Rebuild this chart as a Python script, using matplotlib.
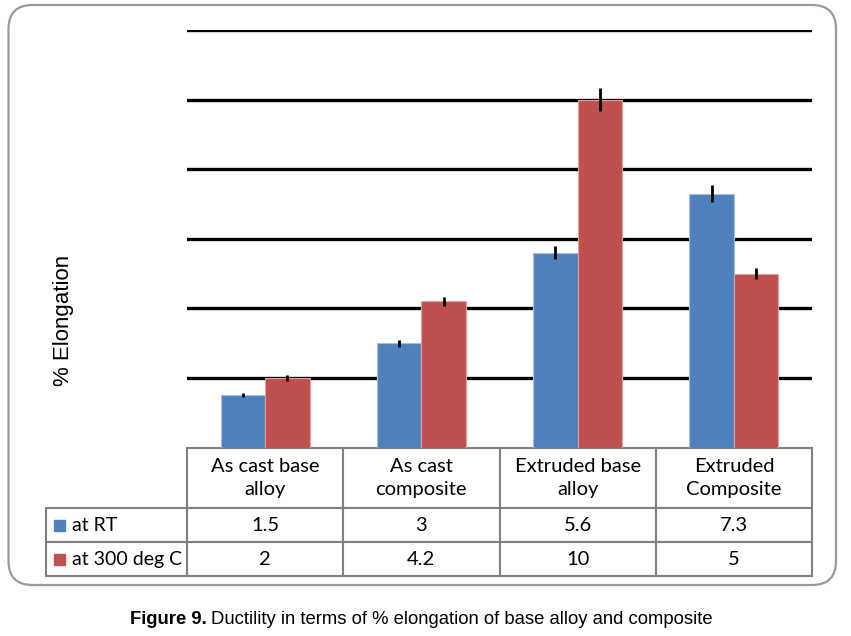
import numpy as np
import matplotlib
matplotlib.use("Agg")
import matplotlib.pyplot as plt
from matplotlib.patches import FancyBboxPatch, Rectangle
from matplotlib.transforms import IdentityTransform

# data
categories = ["As cast base\nalloy", "As cast\ncomposite", "Extruded base\nalloy", "Extruded\nComposite"]
series_names = ["at RT", "at 300 deg C"]
rt_values = [1.5, 3, 5.6, 7.3]
hot_values = [2, 4.2, 10, 5]
rt_err = [0.06, 0.1, 0.18, 0.24]
hot_err = [0.08, 0.12, 0.32, 0.16]
table_text = [["1.5", "3", "5.6", "7.3"], ["2", "4.2", "10", "5"]]

blue = "#4F81BD"
red = "#C0504D"
grid_gray = "#808080"

W, H = 851, 636
fig = plt.figure(figsize=(W / 100, H / 100), dpi=100)

# rounded frame round the whole chart
frame = FancyBboxPatch((8.5, H - 585), 827.5, 580, boxstyle="round,pad=0,rounding_size=24",
                       transform=IdentityTransform(), facecolor="none",
                       edgecolor="#9a9a9a", linewidth=1.6)
fig.patches.append(frame)

# plot area
left, right = 187 / W, 812 / W
bottom, top = 1 - 447.6 / H, 1 - 30 / H
ax = fig.add_axes([left, bottom, right - left, top - bottom])

x = np.arange(len(categories))
bw = 0.285
ax.bar(x - bw / 2, rt_values, bw, color=blue, edgecolor="#a9bfdd", linewidth=0.8, zorder=3)
ax.bar(x + bw / 2, hot_values, bw, color=red, edgecolor="#dca3a1", linewidth=0.8, zorder=3)
ax.errorbar(x - bw / 2, rt_values, yerr=rt_err, fmt="none", ecolor="black", elinewidth=2, capsize=0, zorder=4)
ax.errorbar(x + bw / 2, hot_values, yerr=hot_err, fmt="none", ecolor="black", elinewidth=2, capsize=0, zorder=4)

ax.set_xlim(-0.5, len(categories) - 0.5)
ax.set_ylim(0, 12)
ax.set_yticks(np.arange(2, 13, 2))
ax.yaxis.grid(True, color="black", linewidth=2.4, zorder=1)
ax.set_axisbelow(True)
ax.tick_params(left=False, bottom=False, labelleft=False, labelbottom=False)
for s in ax.spines.values():
    s.set_visible(False)

# data table under the axis (row labels kept as a first column)
ax_w_px = 625
ax_h_px = 447.6 - 30
head_h, row_h = 60.5, 34
lab_w, col_w = 141, 156.25
tab_left = -lab_w / ax_w_px
tab_bottom = -(head_h + 2 * row_h) / ax_h_px

cells = [[name] + vals for name, vals in zip(series_names, table_text)]
tbl = ax.table(cellText=cells, colLabels=[""] + categories, cellLoc="center",
               bbox=[tab_left, tab_bottom, 1 - tab_left, -tab_bottom])
tbl.auto_set_font_size(False)
for (r, c), cell in tbl.get_celld().items():
    cell.set_edgecolor(grid_gray)
    cell.set_linewidth(1.5)
    cell.set_height(head_h if r == 0 else row_h)
    cell.set_width(lab_w if c == 0 else col_w)
    txt = cell.get_text()
    txt.set_fontsize(14.5)
    txt.set_fontfamily("Lato")
    txt.set_linespacing(1.45)
    if c == 0:
        if r == 0:
            cell.visible_edges = ""
        else:
            cell.PAD = 26 / lab_w
            txt.set_fontsize(14)
            txt.set_horizontalalignment("left")
            cell._loc = "left"

# colour keys in front of the row labels
for i, col in enumerate([blue, red]):
    yc = -(head_h + row_h * (i + 0.5)) / ax_h_px
    sq = 11 / ax_h_px
    ax.add_patch(Rectangle((tab_left + 8 / ax_w_px, yc - sq / 2), 11 / ax_w_px, sq,
                           transform=ax.transAxes, color=col, clip_on=False, zorder=5))

fig.text(63 / W, 1 - 320 / H, "% Elongation", rotation=90, ha="center", va="center",
         fontsize=16, family="Liberation Sans")

# caption
cap_y = 1 - 619 / H
t1 = fig.text(130 / W, cap_y, "Figure 9.", fontsize=13.3, fontweight="bold", va="center",
              family="Liberation Sans")
fig.canvas.draw()
bb = t1.get_window_extent()
fig.text((bb.x1 + 4) / W, cap_y, "Ductility in terms of % elongation of base alloy and composite",
         fontsize=13.3, va="center", family="Liberation Sans")

fig.savefig("out.png", dpi=100)
